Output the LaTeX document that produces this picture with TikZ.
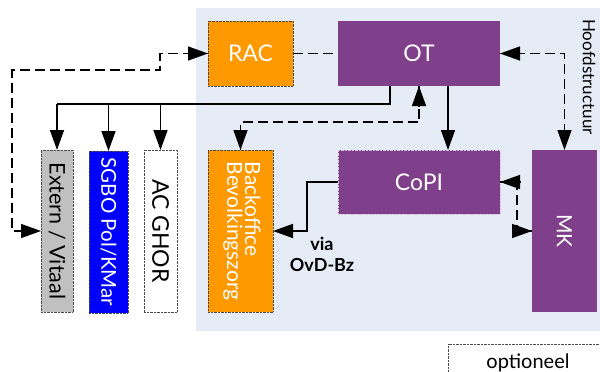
\documentclass[tikz,border=0pt]{standalone}
\usepackage{fontspec}
\setmainfont{Lato}
\usetikzlibrary{arrows.meta}
\definecolor{bgblue}{HTML}{E6ECF6}
\definecolor{orng}{HTML}{FF9900}
\definecolor{purp}{HTML}{7F3F8B}
\definecolor{grayb}{HTML}{C0C0C0}
\definecolor{blueb}{HTML}{0000FF}
\tikzset{
  box/.style={rectangle, inner sep=0pt, outer sep=0pt, font=\fontsize{23}{25}\selectfont},
  orangebox/.style={box, fill=orng, draw=black!70, densely dotted, text=white},
  purpbox/.style={box, fill=purp, text=white},
  sidebox/.style={box, draw=black!70, densely dotted, text=black, minimum height=162pt, font=\fontsize{21}{23}\selectfont},
  con/.style={line width=1.5pt, -{Triangle[length=20pt,width=14pt,fill=black]}},
  tiponly/.style={line width=1.4pt, -{Triangle[length=20pt,width=14pt,fill=black]}},
  plain/.style={line width=1.5pt},
  dplain/.style={line width=1.4pt, dash pattern=on 10pt off 5pt},
}
\begin{document}
\begin{tikzpicture}[x=1pt,y=-1pt]
\useasboundingbox (0,0) rectangle (600,372);
\fill[bgblue] (196,8) rectangle (600,331);
% boxes
\node[orangebox, minimum width=85pt, minimum height=65pt] (rac) at (250.5,53.5) {RAC};
\node[purpbox, minimum width=162pt, minimum height=65pt] (ot) at (419,53.5) {OT};
\node[purpbox, draw=white!70!purp, densely dotted, minimum width=162pt, minimum height=64pt] (copi) at (419,182) {CoPI};
\node[purpbox, minimum width=65pt, minimum height=162pt, font=\fontsize{21}{23}\selectfont] (mk) at (564.5,231) {\rotatebox{-90}{MK}};
\node[orangebox, minimum width=65pt, minimum height=162pt, font=\fontsize{21}{22}\selectfont] (bo) at (240.5,231) {\rotatebox{-90}{\begin{tabular}{@{}l@{}}Backoffice\\[-4pt]Bevolkingszorg\end{tabular}}};
\node[sidebox, fill=grayb, minimum width=32pt, font=\fontsize{21.5}{23}\selectfont] (ext) at (57,231) {\rotatebox{-90}{Extern / Vitaal}};
\node[sidebox, fill=blueb, text=white, minimum width=39pt, font=\fontsize{20.5}{23}\selectfont] (sgbo) at (108.5,232) {\rotatebox{-90}{SGBO Pol/KMar}};
\node[sidebox, fill=white, minimum width=33pt, font=\fontsize{23}{25}\selectfont] (ac) at (160.5,231) {\rotatebox{-90}{AC GHOR}};
\node[rotate=-90, font=\fontsize{17}{19}\selectfont, inner sep=0pt] (hs) at (589,77) {Hoofdstructuur};
\node[draw=black!70, densely dotted, minimum width=160pt, minimum height=38pt, inner sep=0pt, font=\fontsize{20}{22}\selectfont] (opt) at (528,363) {optioneel};
\node[font=\bfseries\fontsize{18}{21}\selectfont, align=center, inner sep=0pt] (via) at (322,254) {via\\OvD-Bz};
% coordinates
\coordinate (j) at (390,104);
\coordinate (k1) at (12,70);
\coordinate (k2) at (419,122);
\coordinate (k3) at (307,182);
\coordinate (k4) at (517,182);
% solid connectors
\draw[plain] (ot.south -| j) -- (j) -- (j -| ext.north);
\draw[con] (j -| ext.north) -- (ext.north);
\draw[con] (j -| sgbo.north) -- (sgbo.north);
\draw[con] (j -| ac.north) -- (ac.north);
\draw[con] ([xshift=29pt]ot.south) -- ([xshift=29pt]copi.north);
\draw[con] (copi.west) -- (k3) |- (bo.east);
% dashed connectors
\draw[dplain] (rac.west) -- ++(-48,0) |- (k1) |- (ext.west);
\draw[dplain] (rac.east) -- (ot.west);
\draw[dplain] (ot.east) -| (mk.north);
\draw[dplain] (bo.north) |- (k2) -- (ot.south);
\draw[dplain] (copi.east) -- (k4) |- (mk.west);
% solid tips of the dashed connectors
\draw[tiponly] ([xshift=-20pt]rac.west) -- (rac.west);
\draw[tiponly] ([xshift=-20pt]ext.west) -- (ext.west);
\draw[tiponly] ([xshift=20pt]ot.east) -- (ot.east);
\draw[tiponly] ([yshift=20pt]mk.north) -- (mk.north);
\draw[tiponly] ([yshift=20pt]bo.north) -- (bo.north);
\draw[tiponly] ([yshift=-20pt]ot.south) -- (ot.south);
\draw[tiponly] ([xshift=20pt]copi.east) -- (copi.east);
\draw[tiponly] ([xshift=-20pt]mk.west) -- (mk.west);
\end{tikzpicture}
\end{document}
